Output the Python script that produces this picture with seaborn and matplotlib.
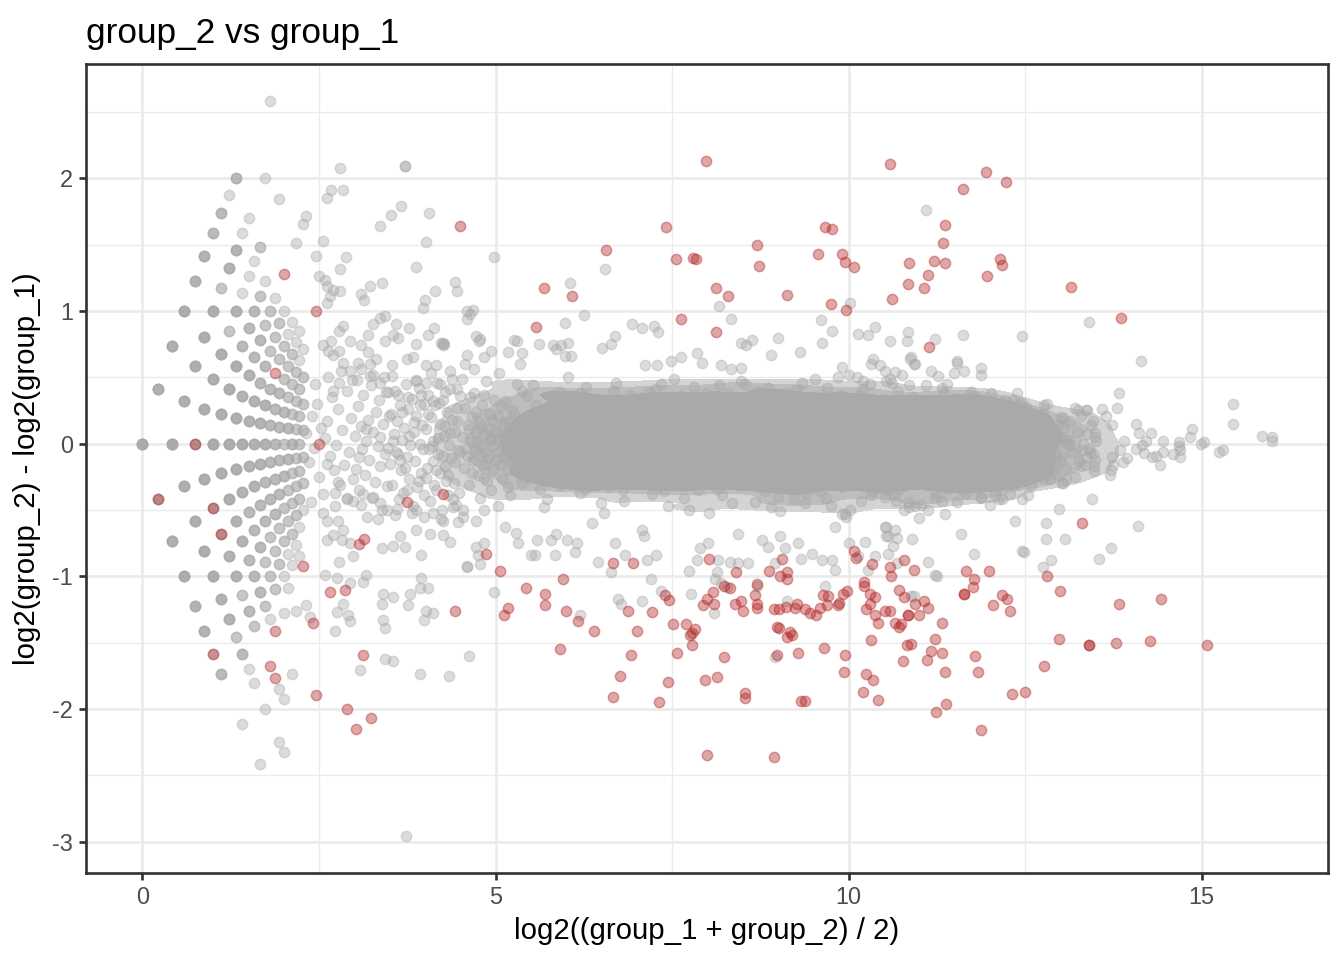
import numpy as np
import pandas as pd
import matplotlib
matplotlib.use("Agg")
import matplotlib.pyplot as plt
from matplotlib.colors import ListedColormap
import seaborn as sns

# ---- low-count genes: group means in thirds of a read (3 replicates each) ----
low_g1 = [3,
          3, 4,
          3, 4, 5,
          3, 4, 5, 6,
          3, 4, 5, 6, 7,
          3, 4, 5, 6, 7, 8,
          3, 4, 5, 6, 7, 8, 9,
          3, 4, 5, 6, 7, 8, 9, 10,
          3, 4, 5, 6, 7, 8, 9, 10,
          3, 4, 5, 6, 7, 8, 9, 10, 11,
          4, 5, 6, 7, 8, 9, 10, 11, 12, 13,
          4, 5, 6, 7, 8, 9, 10, 11, 12, 13,
          5, 6, 7, 8, 9, 10, 11, 12, 13, 14,
          5, 6, 7, 8, 9, 10, 11, 12, 13, 16,
          4, 6, 7, 8, 9, 10, 11, 12, 13, 14, 16,
          3, 7, 8, 9, 10, 11, 12, 13, 14, 15,
          7, 8, 10, 11, 12, 13, 14, 15,
          5, 8, 9, 10, 11, 12, 13, 14, 15, 18, 19,
          8, 9, 10, 11, 12, 13, 14, 15, 16, 17, 19, 20,
          9, 10, 11, 12, 13, 14, 15, 16, 17,
          9, 10, 11, 12, 13, 14, 15, 16, 17, 20,
          7, 10, 11, 12, 13, 14, 15, 16, 17,
          10, 11, 12, 13, 14, 15, 16, 17, 18,
          7, 11, 12, 13, 14, 15, 16, 17,
          7, 9]
low_g2 = [3,
          4, 3,
          5, 4, 3,
          6, 5, 4, 3,
          7, 6, 5, 4, 3,
          8, 7, 6, 5, 4, 3,
          9, 8, 7, 6, 5, 4, 3,
          10, 9, 8, 7, 6, 5, 4, 3,
          11, 10, 9, 8, 7, 6, 5, 4,
          12, 11, 10, 9, 8, 7, 6, 5, 4,
          12, 11, 10, 9, 8, 7, 6, 5, 4, 3,
          13, 12, 11, 10, 9, 8, 7, 6, 5, 4,
          13, 12, 11, 10, 9, 8, 7, 6, 5, 4,
          14, 13, 12, 11, 10, 9, 8, 7, 6, 3,
          16, 14, 13, 12, 11, 10, 9, 8, 7, 6, 4,
          18, 14, 13, 12, 11, 10, 9, 8, 7, 6,
          15, 14, 12, 11, 10, 9, 8, 7,
          18, 15, 14, 13, 12, 11, 10, 9, 8, 5, 4,
          16, 15, 14, 13, 12, 11, 10, 9, 8, 7, 5, 4,
          16, 15, 14, 13, 12, 11, 10, 9, 8,
          17, 16, 15, 14, 13, 12, 11, 10, 9, 6,
          20, 17, 16, 15, 14, 13, 12, 11, 10,
          18, 17, 16, 15, 14, 13, 12, 11, 10,
          22, 18, 17, 16, 15, 14, 13, 12,
          23, 24]
low_n = [6,
         5, 2,
         5, 6, 5,
         5, 5, 5, 5,
         4, 5, 2, 5, 4,
         4, 5, 5, 5, 5, 4,
         3, 5, 5, 6, 2, 5, 1,
         3, 2, 5, 5, 5, 2, 4, 3,
         1, 4, 2, 5, 5, 5, 4, 4,
         3, 4, 4, 5, 5, 5, 4, 4, 2,
         1, 1, 3, 4, 5, 4, 4, 2, 3, 1,
         1, 1, 3, 4, 4, 4, 3, 3, 3, 1,
         1, 3, 3, 4, 4, 4, 3, 3, 2, 1,
         2, 2, 3, 3, 4, 4, 3, 3, 3, 1,
         1, 1, 2, 3, 4, 4, 3, 3, 2, 2, 1,
         1, 2, 2, 3, 3, 3, 3, 2, 2, 1,
         1, 2, 3, 3, 3, 3, 2, 2,
         1, 2, 2, 3, 3, 3, 3, 2, 2, 1, 1,
         1, 2, 2, 3, 2, 3, 2, 2, 1, 1, 1, 1,
         1, 2, 2, 3, 3, 2, 2, 1, 1,
         1, 2, 2, 2, 3, 2, 2, 2, 1, 1,
         1, 1, 2, 2, 2, 2, 2, 2, 1,
         1, 1, 2, 2, 2, 2, 2, 1, 1,
         1, 1, 2, 2, 2, 2, 2, 1,
         1, 1]
sig_low_g1 = [4, 5, 7, 8, 9, 16, 16, 17, 19, 23, 26, 7, 11, 9, 17]
sig_low_g2 = [3, 5, 5, 5, 3, 6, 5, 5, 10, 9, 7, 17, 22, 13, 17]

# ---- main cloud (A, M) in hundredths ----
core_xy = [
    452,5, 455,-18, 457,27, 459,-9, 461,14, 463,-31, 465,2, 466,20, 468,-13, 470,38, 471,-4, 473,9, 475,-24, 476,16, 478,-41, 479,-1, 481,29, 482,-16, 484,7, 485,-6, 486,47, 488,-28, 489,12, 490,-11, 491,22, 492,3, 494,-35, 495,18, 496,-2, 497,-20, 498,33, 499,8, 454,-50, 458,-3, 462,11, 467,-22, 472,24, 474,1, 477,-8, 480,13, 483,-26, 487,-15, 493,4, 500,-12, 469,56,
    501,10, 502,-6, 504,21, 506,-15, 507,3, 509,-27, 510,13, 512,-2, 513,32, 515,-11, 516,6, 518,-20, 519,17, 521,-39, 522,1, 524,25, 525,-8, 527,11, 528,-17, 530,45, 531,-3, 533,8, 534,-24, 536,14, 537,-30, 539,4, 540,19, 542,-12, 543,-1, 545,36, 546,-19, 548,7, 549,-5, 503,-47, 508,28, 511,-10, 514,16, 517,-33, 520,0, 523,-14, 526,22, 529,-4, 532,-21, 535,2, 538,40, 541,-9, 544,12, 547,-26, 550,5, 505,53,
    551,-7, 552,16, 554,-21, 555,4, 557,29, 558,-12, 560,9, 561,-2, 563,-34, 564,19, 566,-9, 567,1, 569,24, 570,-16, 572,11, 573,-42, 575,6, 576,-4, 578,33, 579,-23, 581,14, 582,-11, 584,2, 585,21, 587,-29, 588,8, 590,-1, 591,39, 593,-15, 594,12, 596,-6, 597,-25, 599,18, 553,44, 556,-3, 559,22, 562,-17, 565,7, 568,-48, 571,-10, 574,27, 577,3, 580,-19, 583,36, 586,-8, 589,15, 592,-31, 595,1, 598,-13, 600,25,
    601,3, 602,-14, 604,23, 605,-5, 607,10, 608,-28, 610,17, 611,-1, 613,35, 614,-19, 616,6, 617,-10, 619,27, 620,-37, 622,1, 623,14, 625,-22, 626,-6, 628,43, 629,9, 631,-16, 632,20, 634,-3, 635,-31, 637,12, 638,4, 640,-12, 641,30, 643,-25, 644,7, 646,-2, 647,18, 649,-45, 603,50, 606,-8, 609,13, 612,-20, 615,2, 618,-13, 621,38, 624,-1, 627,-34, 630,24, 633,-9, 636,11, 639,-27, 642,5, 645,-17, 648,29, 650,-4,
    651,13, 652,-9, 654,26, 655,-1, 657,-21, 658,8, 660,-33, 661,17, 663,2, 664,-13, 666,40, 667,-5, 669,11, 670,-26, 672,21, 673,-11, 675,4, 676,33, 678,-17, 679,-2, 681,15, 682,-43, 684,6, 685,-8, 687,24, 688,-19, 690,1, 691,37, 693,-13, 694,9, 696,-29, 697,19, 699,-4, 653,-52, 656,31, 659,-6, 662,12, 665,-24, 668,-1, 671,46, 674,-15, 677,8, 680,-35, 683,22, 686,-3, 689,14, 692,-22, 695,3, 698,28, 700,-10,
    701,6, 702,-18, 704,15, 705,-3, 707,31, 708,-10, 710,1, 711,22, 713,-27, 714,9, 716,-6, 717,39, 719,-15, 720,12, 722,-38, 723,3, 725,18, 726,-1, 728,-22, 729,27, 731,-11, 732,7, 734,45, 735,-32, 737,13, 738,-4, 740,21, 741,-16, 743,2, 744,-47, 746,34, 747,-8, 749,10, 703,-12, 706,24, 709,-29, 712,5, 715,-2, 718,17, 721,-20, 724,-7, 727,41, 730,14, 733,-24, 736,0, 739,-36, 742,26, 745,-13, 748,8, 750,-3,
    751,-14, 752,9, 754,29, 755,-3, 757,-24, 758,14, 760,1, 761,-9, 763,36, 764,-19, 766,6, 767,-41, 769,20, 770,-5, 772,11, 773,-28, 775,2, 776,25, 778,-13, 779,-1, 781,43, 782,-20, 784,7, 785,16, 787,-35, 788,4, 790,-8, 791,30, 793,-16, 794,12, 796,-2, 797,-26, 799,19, 753,49, 756,-7, 759,17, 762,-32, 765,3, 768,23, 771,-11, 774,-50, 777,8, 780,-4, 783,33, 786,-18, 789,10, 792,-23, 795,-1, 798,38, 800,-12,
    801,16, 802,-4, 804,-25, 805,9, 807,33, 808,-12, 810,2, 811,21, 813,-34, 814,-7, 816,12, 817,44, 819,-18, 820,5, 822,-1, 823,-29, 825,24, 826,-10, 828,8, 829,38, 831,-21, 832,1, 834,15, 835,-45, 837,-5, 838,27, 840,-14, 841,4, 843,18, 844,-31, 846,-2, 847,11, 849,-17, 803,-52, 806,20, 809,-9, 812,29, 815,-16, 818,3, 821,-39, 824,13, 827,-3, 830,-24, 833,34, 836,7, 839,-11, 842,23, 845,-6, 848,47, 850,-27,
    851,-8, 852,23, 854,4, 855,-17, 857,12, 858,-30, 860,31, 861,-2, 863,7, 864,-22, 866,17, 867,-44, 869,1, 870,40, 872,-11, 873,10, 875,-27, 876,3, 878,-6, 879,22, 881,-36, 882,14, 884,-1, 885,28, 887,-15, 888,6, 890,-48, 891,35, 893,-9, 894,16, 896,-21, 897,2, 899,-4, 853,45, 856,-12, 859,19, 862,-25, 865,-3, 868,9, 871,-19, 874,26, 877,-33, 880,5, 883,-13, 886,42, 889,11, 892,-28, 895,-7, 898,20, 900,-40,
    901,2, 902,-16, 904,27, 905,-5, 907,11, 908,-33, 910,19, 911,-1, 913,-24, 914,38, 916,8, 917,-12, 919,3, 920,29, 922,-20, 923,-42, 925,14, 926,-3, 928,6, 929,-28, 931,22, 932,-9, 934,46, 935,1, 937,-17, 938,12, 940,-37, 941,25, 943,-6, 944,4, 946,-23, 947,17, 949,-11, 903,-51, 906,33, 909,-8, 912,13, 915,-30, 918,0, 921,21, 924,-14, 927,41, 930,-2, 933,-26, 936,9, 939,-45, 942,18, 945,-4, 948,31, 950,-19,
    951,11, 952,-22, 954,3, 955,35, 957,-10, 958,16, 960,-36, 961,-1, 963,24, 964,-15, 966,6, 967,-29, 969,42, 970,1, 972,-8, 973,19, 975,-47, 976,9, 978,-18, 979,30, 981,-4, 982,13, 984,-25, 985,2, 987,-12, 988,37, 990,7, 991,-33, 993,21, 994,-2, 996,-19, 997,15, 999,-7, 953,49, 956,-5, 959,27, 962,-13, 965,4, 968,-41, 971,17, 974,-21, 977,-3, 980,33, 983,10, 986,-30, 989,-9, 992,23, 995,-53, 998,5, 1000,-15,
    1001,8, 1003,-13, 1004,25, 1006,-4, 1007,-31, 1009,14, 1010,1, 1012,-20, 1013,37, 1015,-9, 1016,5, 1018,-43, 1019,20, 1021,-2, 1022,11, 1024,-26, 1025,31, 1027,-14, 1028,3, 1030,-7, 1031,45, 1033,16, 1034,-36, 1036,-1, 1037,9, 1039,-18, 1040,23, 1042,-10, 1043,2, 1045,-29, 1046,14, 1048,-5, 1049,34, 1002,-50, 1005,18, 1008,-8, 1011,28, 1014,-17, 1017,-1, 1020,41, 1023,6, 1026,-23, 1029,12, 1032,-39, 1035,-4, 1038,22, 1041,-13, 1044,7, 1047,-21, 1050,26,
    1051,-3, 1052,19, 1054,-16, 1055,6, 1057,31, 1058,-25, 1060,10, 1061,-8, 1063,1, 1064,-38, 1066,22, 1067,-12, 1069,4, 1070,40, 1072,-20, 1073,13, 1075,-5, 1076,-31, 1078,17, 1079,2, 1081,-10, 1082,28, 1084,-44, 1085,7, 1087,-15, 1088,11, 1090,-1, 1091,35, 1093,-23, 1094,15, 1096,-6, 1097,3, 1099,-27, 1053,47, 1056,-9, 1059,14, 1062,-22, 1065,-2, 1068,26, 1071,-34, 1074,9, 1077,-14, 1080,21, 1083,-4, 1086,-48, 1089,32, 1092,-11, 1095,5, 1098,18, 1100,-18,
    1101,12, 1102,-8, 1104,24, 1105,-19, 1107,3, 1108,-30, 1110,16, 1111,-3, 1113,-12, 1114,33, 1116,7, 1117,-23, 1119,1, 1120,19, 1122,-41, 1123,10, 1125,-6, 1126,28, 1128,-15, 1129,4, 1131,-27, 1132,14, 1134,-1, 1135,38, 1137,-10, 1138,8, 1140,-34, 1141,21, 1143,-4, 1144,11, 1146,-18, 1147,2, 1149,26, 1103,-46, 1106,30, 1109,-11, 1112,6, 1115,-25, 1118,13, 1121,-2, 1124,-37, 1127,22, 1130,-8, 1133,42, 1136,-16, 1139,5, 1142,-21, 1145,17, 1148,-5, 1150,-29,
    1151,6, 1152,-15, 1154,20, 1155,-4, 1157,-27, 1158,11, 1160,2, 1161,-10, 1163,31, 1164,-20, 1166,8, 1167,-37, 1169,15, 1170,-1, 1172,24, 1173,-13, 1175,4, 1176,-30, 1178,36, 1179,-6, 1181,13, 1182,-22, 1184,1, 1185,18, 1187,-9, 1188,-41, 1190,27, 1191,-3, 1193,9, 1194,-17, 1196,-1, 1197,22, 1199,-11, 1153,-44, 1156,29, 1159,-7, 1162,16, 1165,-24, 1168,3, 1171,-14, 1174,39, 1177,10, 1180,-33, 1183,-5, 1186,21, 1189,-19, 1192,12, 1195,-28, 1198,5, 1200,32,
    1201,-6, 1203,17, 1204,-21, 1206,4, 1207,28, 1209,-12, 1210,9, 1212,-33, 1213,-1, 1215,21, 1216,-15, 1218,6, 1219,-4, 1221,33, 1222,-25, 1224,12, 1225,1, 1227,-10, 1228,-38, 1230,18, 1231,-7, 1233,7, 1234,25, 1236,-19, 1237,2, 1239,-30, 1240,14, 1242,-3, 1243,30, 1245,-14, 1246,5, 1248,-23, 1249,10, 1202,38, 1205,-11, 1208,14, 1211,-26, 1214,3, 1217,-42, 1220,19, 1223,-8, 1226,23, 1229,-17, 1232,-1, 1235,-31, 1238,9, 1241,-12, 1244,20, 1247,-5, 1250,-20,
    1251,4, 1253,-12, 1255,16, 1257,-22, 1259,1, 1261,10, 1263,-6, 1265,-18, 1267,20, 1269,3, 1271,-9, 1273,13, 1275,-26, 1277,-2, 1279,8, 1281,-14, 1283,17, 1285,-5, 1287,2, 1289,-20, 1291,11, 1293,-8, 1295,-1, 1297,14, 1299,-13, 1252,26, 1258,-31, 1264,7, 1270,-15, 1276,22, 1282,-3, 1288,9, 1294,-17, 1300,5, 1254,-3, 1262,15, 1268,-11, 1274,4, 1280,-24, 1286,12,
    1302,-9, 1305,12, 1308,-18, 1311,3, 1314,17, 1317,-6, 1320,-25, 1323,9, 1326,-13, 1329,21, 1332,0, 1335,-16, 1338,7, 1341,-4, 1344,14, 1347,-21, 1350,2, 1304,-30, 1313,-1, 1325,25, 1337,-10, 1346,-8,
]

shoulder_xy = [
    232,8, 236,-14, 240,21, 243,-3, 247,30, 250,-25, 253,12, 256,-38, 259,4, 262,17, 265,-9, 268,35, 271,-20, 274,-1, 277,26, 280,-31, 283,10, 286,-16, 289,40, 292,-6, 295,19, 298,-27, 238,-44, 245,45, 255,-52, 263,50, 272,-47, 281,55, 290,-41, 297,48,
    301,6, 303,-19, 305,28, 307,-35, 309,13, 311,-4, 313,37, 315,-24, 317,2, 319,18, 321,-12, 323,44, 325,-41, 327,9, 329,-29, 331,24, 333,-2, 335,33, 337,-17, 339,-50, 341,15, 343,-8, 345,39, 347,-32, 349,21, 304,48, 310,-46, 318,-55, 326,52, 334,-57, 342,50, 348,-3, 306,-10, 316,11, 336,5,
    351,-15, 352,22, 354,-31, 356,7, 357,40, 359,-6, 361,17, 363,-42, 364,29, 366,-20, 368,3, 369,-37, 371,12, 373,45, 374,-10, 376,26, 378,-27, 379,-1, 381,34, 383,-47, 384,9, 386,-13, 388,21, 389,-33, 391,42, 393,0, 394,-22, 396,14, 398,-39, 399,30, 353,51, 358,-54, 362,-8, 367,24, 372,-18, 377,6, 382,-52, 387,48, 392,-28, 397,-4, 355,2, 365,-12, 375,-35, 385,16, 395,37,
    401,11, 402,-26, 404,37, 406,-4, 407,-43, 409,20, 411,-13, 412,2, 414,29, 416,-35, 417,46, 419,-8, 421,15, 422,-22, 424,-50, 426,33, 427,6, 429,-17, 431,24, 432,-39, 434,-1, 436,41, 437,-11, 439,18, 441,-30, 442,9, 444,-46, 446,27, 447,-5, 449,36, 403,-18, 408,53, 413,-31, 418,4, 423,-57, 428,13, 433,-24, 438,49, 443,-14, 448,-37, 405,22, 410,-2, 415,-20, 420,31, 425,-9, 430,-28, 435,8, 440,-42, 445,17, 450,-6,
]

# genes away from the main band (grey, not significant)
spread_xy = [
    280,208, 372,209, 372,209, 366,179, 352,172, 337,164, 401,152, 406,174, 255,153, 288,141, 280,132, 387,133,
    322,119, 339,121, 414,115, 309,113, 314,108, 262,185, 267,191, 284,191, 280,115, 270,116, 266,111, 262,106,
    250,126, 259,123, 262,119, 397,102, 400,108, 443,122, 446,115, 498,141, 1109,176, 606,121, 655,132, 817,104,
    1002,106, 460,100, 468,101, 464,98, 460,94, 626,97, 598,91, 693,90, 708,87, 725,89, 730,84, 834,94, 961,93,
    976,85, 963,76, 1037,88, 1028,82, 1013,83, 1084,84, 1083,77, 1059,77, 1123,79, 1162,82, 1246,81, 900,80,
    669,81, 663,75, 651,72, 473,81, 476,77, 423,76, 427,75, 493,70, 518,69, 530,77, 526,78, 537,68, 534,60,
    847,76, 855,74, 863,78, 785,68, 792,61, 762,65, 748,62, 890,67, 931,69, 1154,61, 1034,64, 1088,65, 1094,60,
    562,75, 581,74, 586,71, 593,74, 602,76, 599,66, 607,66, 728,59, 712,59, 820,59, 833,56, 847,57, 1032,60,
    1044,59, 1012,50, 1021,47, 1051,55, 1066,54, 990,58, 1000,52, 985,50, 1153,62, 1164,55, 1187,57, 1188,52,
    1117,55, 1127,51, 1149,53, 1139,45, 1109,44, 1087,64, 1092,60, 1075,52, 1059,49, 1061,46, 1085,44, 1238,38,
    1233,33, 1245,31, 1277,29, 1281,30, 1383,38, 1380,27, 1359,26, 1364,21, 1373,14, 1341,92, 1414,62, 1320,27,
    1336,25, 1338,25, 1349,8, 1346,17, 1349,5, 1301,20, 1303,19, 1306,3, 1311,0, 1428,8, 1407,15, 1412,8,
    1421,2, 1415,-1, 1407,-4, 1418,-7, 1430,-10, 1435,-9, 1468,1, 1468,-2, 1470,-5, 1470,-10, 1459,-8, 1446,-6,
    1446,2, 1441,-16, 1486,11, 1484,5, 1499,0, 1504,1, 1524,-6, 1531,-5, 1545,30, 1545,15, 1585,6, 1599,5,
    1599,2, 1390,2, 1384,-5, 1373,-10, 1395,-11, 1388,-14, 1374,-16, 1372,-20, 1370,-24, 1330,-5, 1342,-6,
    1329,-17, 1347,-17, 1349,-12, 1345,-42, 1410,-62, 1371,-79, 1355,-87, 1298,-49, 1307,-72, 1280,-72,
    1276,-93, 1286,-88, 1279,-60, 1236,-58, 1245,-81, 1248,-82, 1285,-27, 1302,-30, 1308,-27, 1293,-23,
    1283,-18, 1250,-25, 1254,-39, 1246,-42, 1224,-26, 1213,-42, 1207,-39, 1188,-40, 1200,-46, 1177,-32,
    1160,-35, 1136,-53, 1133,-43, 1112,-50, 1100,-56, 1094,-47, 1078,-50, 1067,-43, 1055,-35, 1051,-40,
    1159,-68, 1177,-83, 1112,-89, 1122,-99, 1090,-72, 1053,-63, 1066,-65, 1068,-71, 1053,-70, 1063,-77,
    1056,-83, 1089,-115, 1092,-115, 1125,-100,
    447,-59, 472,-78, 475,-84, 483,-75, 460,-92, 478,-91, 498,-112, 514,-63, 532,-75, 529,-67, 550,-84,
    556,-84, 559,-73, 579,-73, 584,-84, 586,-68, 601,-73, 616,-75, 613,-82, 636,-60, 645,-89, 663,-97,
    669,-75, 683,-84, 708,-65, 710,-70, 714,-88, 727,-84, 720,-102, 735,-111, 674,-117, 707,-119, 777,-113,
    774,-96, 785,-88, 789,-79, 801,-75, 815,-88, 814,-97, 811,-102, 819,-105, 828,-108, 832,-89, 844,-90,
    844,-68, 858,-90, 870,-107, 877,-73, 886,-78, 896,-90, 903,-70, 910,-79, 929,-75, 933,-87, 948,-83,
    962,-88, 966,-107, 976,-88, 981,-95, 990,-53, 997,-55, 981,-63, 1000,-75, 1023,-74, 1014,-85, 1027,-95,
    1037,-85, 1051,-63, 1056,-70, 1068,-90, 462,-160, 434,-175, 620,-129, 677,-121, 810,-128, 896,-161,
    913,-119,
    261,-15, 277,-29, 272,-37, 289,-42, 298,-43, 313,-38, 327,-40, 336,-45, 346,-50, 360,-49, 388,-50,
    398,-55, 412,-52, 426,-58, 440,-48, 454,-55, 473,-58, 483,-50, 261,-58, 277,-58, 284,-65, 261,-73,
    270,-69, 282,-73, 294,-75, 298,-85, 317,-99, 313,-104, 294,-105, 275,-101, 258,-99, 279,-89, 339,-79,
    355,-77, 372,-78, 395,-84, 426,-69, 435,-74, 459,-93, 364,-70, 388,-65, 407,-68, 341,-113, 355,-116,
    376,-122, 379,-113, 393,-109, 405,-109, 395,-101, 402,-126, 412,-128, 398,-133, 339,-121, 341,-133,
    343,-139, 308,-171, 343,-162, 355,-164, 393,-174, 272,-141, 294,-134, 291,-129, 275,-127, 284,-121,
    232,-122, 237,-131, 218,-126, 373,-296,
    284,89, 279,85, 294,77, 267,77, 256,74, 263,70, 279,70, 284,61, 270,67, 309,74, 320,69, 320,82, 327,90,
    336,95, 343,96, 359,90, 377,87, 355,82, 362,80, 343,77, 388,75, 405,82, 413,87, 425,76, 426,74, 478,79,
    459,67, 483,65, 457,60, 435,55, 416,59, 402,59, 383,65, 374,64, 354,59, 331,64, 322,60, 305,61, 294,55,
    279,46, 270,40, 310,56, 322,51, 336,46, 348,39, 362,37, 376,35, 393,29, 412,32, 428,39, 445,41, 464,35,
    483,37, 452,49, 421,45, 402,46, 388,47,
]

# significant genes (red)
sig_xy = [
    449,164, 798,213, 1059,211, 1195,205, 1223,197, 1162,192, 741,163, 967,163, 976,162, 1137,165, 1134,151,
    871,150, 656,146, 755,139, 780,140, 784,139, 956,143, 990,143, 995,137, 1008,133, 873,134, 1086,136,
    1121,138, 1136,136, 1214,139, 1218,135, 1113,127, 1196,126, 1084,120, 1107,117, 569,117, 608,111, 812,117,
    829,111, 913,112, 1061,109, 975,105, 997,101, 763,94, 557,88, 812,84, 1114,73, 1315,118, 1386,95,
    487,-83, 506,-96, 442,-126, 512,-129, 518,-124, 543,-109, 570,-113, 570,-122, 596,-102, 600,-126,
    617,-134, 639,-141, 591,-155, 667,-90, 694,-90, 688,-126, 721,-127, 700,-141, 692,-159, 676,-175,
    667,-191, 731,-195, 744,-180, 757,-158, 752,-136, 770,-136, 778,-143, 775,-144, 783,-140, 778,-152,
    740,-114, 746,-118, 794,-122, 800,-117, 808,-112, 809,-121, 823,-107, 832,-109, 803,-87, 841,-97,
    871,-106, 867,-114, 839,-121, 848,-119, 850,-126, 870,-124, 870,-121, 887,-96, 906,-87, 903,-100,
    913,-97, 913,-102, 894,-125, 902,-125, 912,-123, 924,-124, 927,-121, 938,-125, 946,-128, 954,-129,
    959,-124, 964,-114, 971,-115, 970,-122, 985,-122, 987,-120, 992,-113, 998,-111, 901,-139, 898,-138,
    917,-142, 913,-146, 920,-144, 824,-161, 796,-178, 813,-176, 854,-188, 853,-192, 800,-235, 895,-236,
    898,-159, 928,-158, 965,-154, 995,-159, 993,-172, 932,-194, 939,-194, 1008,-81, 1011,-86, 1033,-91,
    1022,-104, 1022,-107, 1059,-93, 1060,-100, 1078,-88, 1092,-95, 1031,-113, 1037,-116, 1024,-125,
    1031,-121, 1037,-129, 1041,-135, 1051,-126, 1059,-126, 1066,-135, 1074,-136, 1071,-138, 1071,-110,
    1079,-116, 1084,-129, 1084,-129, 1094,-121, 1100,-129, 1107,-119, 1112,-124, 1133,-135, 1032,-148,
    1083,-152, 1088,-151, 1122,-147, 1077,-164, 1117,-156, 1111,-163, 1133,-158, 1137,-172, 1024,-174,
    1034,-178, 1021,-187, 1042,-193, 1124,-202, 1138,-196, 1188,-216, 1167,-96, 1178,-102, 1176,-108,
    1164,-113, 1164,-113, 1199,-96, 1204,-122, 1217,-114, 1224,-117, 1229,-126, 1179,-160, 1183,-172,
    1231,-189, 1250,-187, 1277,-168, 1281,-100, 1299,-111, 1298,-147, 1340,-152, 1340,-152, 1379,-150,
    1427,-149, 1508,-152, 1383,-121, 1443,-117, 1331,-60,
    374,-44, 425,-38, 307,-76, 314,-72, 290,-200, 324,-207, 303,-215, 312,-159, 266,-112, 287,-110,
]


def ma_from_groups(g1, g2, n=None):
    g1 = np.asarray(g1) / 3
    g2 = np.asarray(g2) / 3
    if n is not None:
        g1 = np.repeat(g1, n)
        g2 = np.repeat(g2, n)
    return np.log2((g1 + g2) / 2), np.log2(g2) - np.log2(g1)


def ma_from_pairs(xy):
    arr = np.asarray(xy, dtype=float).reshape(-1, 2) / 100
    return arr[:, 0], arr[:, 1]


low_a, low_m = ma_from_groups(low_g1, low_g2, low_n)
slow_a, slow_m = ma_from_groups(sig_low_g1, sig_low_g2)
core_a, core_m = ma_from_pairs(core_xy)
sh_a, sh_m = ma_from_pairs(shoulder_xy)
sp_a, sp_m = ma_from_pairs(spread_xy)
sg_a, sg_m = ma_from_pairs(sig_xy)

grey = pd.DataFrame({"A": np.concatenate([low_a, sh_a, core_a, sp_a]),
                     "M": np.concatenate([low_m, sh_m, core_m, sp_m])})
sig = pd.DataFrame({"A": np.concatenate([slow_a, sg_a]),
                    "M": np.concatenate([slow_m, sg_m])})

sns.set_theme(style="white")
plt.rcParams["font.family"] = ["Liberation Sans", "DejaVu Sans"]
plt.rcParams["axes.unicode_minus"] = False

fig, ax = plt.subplots(figsize=(7, 5), dpi=192)
fig.subplots_adjust(left=86 / 1344, right=1328 / 1344, top=1 - 64 / 960, bottom=1 - 873 / 960)

# overplotted centre of the cloud, graded so its edge fades like stacked points;
# the darker shades only use the densest stretch of A
shading = [(4.5, 13.5, 0.04, "#d4d4d4"),
           (4.9, 13.1, 0.08, "#bdbdbd"),
           (5.3, 12.8, 0.13, "#a9a9a9")]
for lo, hi, lvl, shade in shading:
    keep = (core_a >= lo) & (core_a <= hi)
    sns.kdeplot(x=core_a[keep], y=core_m[keep], fill=True, levels=[lvl, 1], bw_adjust=0.5,
                cmap=ListedColormap([shade]), ax=ax, zorder=1)

pt = dict(s=15, alpha=0.4, linewidth=0.55, legend=False, ax=ax)
sns.scatterplot(data=grey, x="A", y="M", color="#a9a9a9", edgecolor="#a9a9a9", zorder=2, **pt)
sns.scatterplot(data=sig, x="A", y="M", color="#b22222", edgecolor="#b22222", zorder=3, **pt)

ax.set_xlim(-0.8, 16.79)
ax.set_ylim(-3.237, 2.862)
ax.set_xticks([0, 5, 10, 15])
ax.set_yticks([-3, -2, -1, 0, 1, 2])
ax.set_xticks([2.5, 7.5, 12.5], minor=True)
ax.set_yticks([-2.5, -1.5, -0.5, 0.5, 1.5, 2.5], minor=True)
ax.set_axisbelow(True)
ax.grid(which="major", color="#ebebeb", linewidth=1.0)
ax.grid(which="minor", color="#ebebeb", linewidth=0.5)
ax.tick_params(which="major", length=2.75, width=1.0, color="#333333",
               labelcolor="#4d4d4d", labelsize=8.8, pad=2.2,
               bottom=True, left=True)
ax.tick_params(which="minor", length=0)
for sp in ax.spines.values():
    sp.set_color("#333333")
    sp.set_linewidth(1.0)

ax.set_xlabel("log2((group_1 + group_2) / 2)", fontsize=11, color="black", labelpad=3)
ax.set_ylabel("log2(group_2) - log2(group_1)", fontsize=11, color="black", labelpad=4)
ax.set_title("group_2 vs group_1", loc="left", fontsize=13.2, color="black", pad=8)

plt.savefig("out.png", dpi=192)
